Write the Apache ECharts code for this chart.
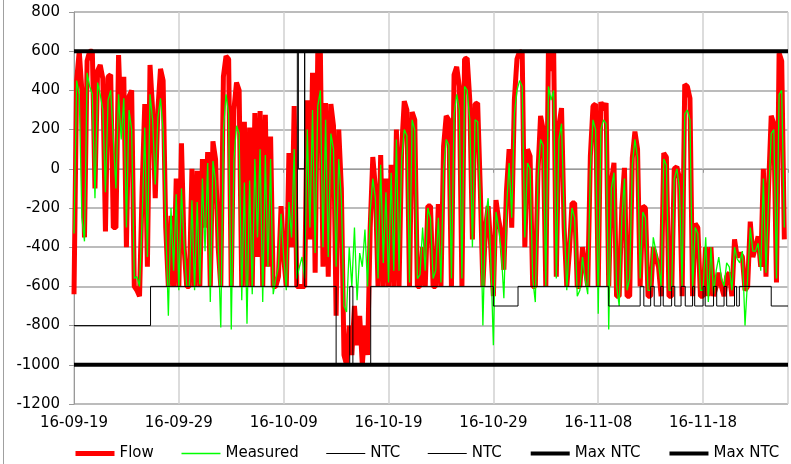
<!DOCTYPE html>
<html><head><meta charset="utf-8">
<script src="https://cdn.jsdelivr.net/npm/echarts@6/dist/echarts.min.js"></script>
<style>html,body{margin:0;padding:0;background:#fff}#c{width:791px;height:464px}</style>
</head><body><div id="c"></div>
<script>
// x in days since 16-09-19, flow/measured sampled every 6 hours
const tickLabels = ['16-09-19','16-09-29','16-10-09','16-10-19','16-10-29','16-11-08','16-11-18'];
const samplesPerDay = 4;
const flow = [
-640,450,600,400, -350,550,600,600, -100,500,530,460, -320,470,480,-300,
-300,580,200,470, -400,370,400,-600, -620,-650,-100,330, -500,530,300,-150,
300,510,450,-300, -600,-240,-600,-50, -600,130,-400,-600, -600,0,-600,-10,
-600,50,-300,85, -600,140,50,-400, -600,470,575,560, -600,300,440,400,
-600,240,-600,210, -600,285,-450,295, -600,275,-500,165, -600,-600,-550,-190,
-450,-600,80,-400, 320,-600,-600,-600, -600,350,-360,490, -530,590,590,-500,
335,-550,330,220, -750,200,-100,-950, -1000,-800,-950,-700, -900,-750,-1000,-800,
-950,-300,60,-100, -600,70,-600,-50, -600,20,-600,200, -600,100,345,300,
-600,290,250,-600, -600,-400,-600,-190, -190,-600,-600,-180, -600,115,270,250,
-600,480,520,420, -600,560,565,350, -360,330,335,-100, -600,-300,-190,-400,
-650,-160,-260,-330, -515,-110,100,-300, 350,560,600,590, -400,100,65,-600,
-600,-20,270,200, -600,600,500,600, -550,220,310,-300, -600,-420,-175,-175,
-600,-600,-400,-500, -600,65,320,330, -600,340,300,335, -600,-70,30,-650,
-650,-200,5,-650, -650,55,190,100, -600,-190,-200,-650, -650,-400,-450,-500,
-650,80,60,-650, -650,0,10,-50, -650,430,420,360, -650,-280,-300,-650,
-650,-400,-650,-400, -650,-600,-530,-600, -650,-550,-530,-650, -360,-450,-430,-450,
-620,-600,-270,-450, -400,-345,-500,0, -550,-90,270,230, -580,590,550,-360
];
const measured = [
-330,450,380,-250, -370,490,420,380, -150,440,380,300, -120,350,400,150,
-100,380,150,360, -300,300,200,-560, -550,-600,-250,210, -450,380,250,-80,
260,360,200,-280, -750,-200,-520,-130, -620,-100,-380,-600, -600,-160,-620,-170,
-590,-50,-420,30, -680,40,-60,-380, -810,200,380,280, -820,50,220,180,
-670,-70,-790,-60, -640,50,-350,100, -680,70,-500,50, -640,-560,-500,-230,
-450,-620,-170,-350, 100,-560,-500,-450, -560,200,-300,300, -430,320,400,-400,
250,-450,180,100, -500,50,-150,-700, -730,-400,-600,-300, -670,-430,-500,-310,
-600,-220,-50,-150, -560,20,-480,-120, -580,-20,-520,150, -520,50,200,170,
-580,250,200,-560, -540,-300,-520,-200, -250,-560,-520,-250, -580,0,150,120,
-560,280,380,300, -560,420,400,250, -400,250,240,-150, -800,-250,-150,-450,
-900,-220,-300,-420, -660,-200,30,-250, 280,400,450,420, -350,30,0,-560,
-680,-50,150,120, -600,420,350,400, -560,150,230,-250, -620,-380,-200,-250,
-650,-620,-450,-560, -640,0,250,200, -740,200,250,230, -820,-100,-20,-600,
-700,-250,-50,-620, -560,20,150,60, -560,-220,-250,-620, -620,-350,-420,-480,
-600,50,20,-620, -620,-50,0,-100, -600,280,300,250, -620,-300,-330,-620,
-620,-350,-680,-400, -640,-520,-450,-560, -600,-480,-500,-620, -400,-460,-480,-420,
-800,-560,-300,-420, -420,-380,-520,-50, -530,-150,180,200, -560,380,400,-300
];
const ntcLowDays = [0,7.3,21.3,22.0,25.0,26.3,26.6,28.3,40.0,42.35,
  51.0,54.0,54.35,55.0,55.34,55.96,56.2,57.0,57.3,57.9,58.3,59.0,59.2,60.0,60.2,61.0,61.3,62.0,62.25,63.0,63.2,63.46,66.5,68.1];
const ntcLowValues = [-800,-600,600,-600,-1000,-600,-1000,-600,-700,-600,
  -700,-600,-700,-600,-700,-600,-700,-600,-700,-600,-700,-600,-700,-600,-700,-600,-700,-600,-700,-600,-700,-600,-700,-700];
const ntcHighDays = [0,21.4,22.0,68.1];
const ntcHighValues = [600,0,600,600];
const maxNtcDays = [0,68.1];
const maxNtcUpper = [600,600];
const maxNtcLower = [-1000,-1000];

const pairs = (xs, ys) => ys.map((v,i)=>[xs[i], v]);
const sampled = ys => ys.map((v,i)=>[i/samplesPerDay, v]);
const FONT = 'DejaVu Sans';
const hideSymbol = {color:'rgba(0,0,0,0)', borderColor:'rgba(0,0,0,0)', borderWidth:0, opacity:0};

const chart = echarts.init(document.getElementById('c'), null, {renderer:'canvas'});
chart.setOption({
  animation:false,
  backgroundColor:'#fff',
  graphic:[{type:'line', shape:{x1:3.5,y1:0,x2:3.5,y2:464}, style:{stroke:'#a0a0a0', lineWidth:1}}],
  grid:{left:74, right:0, top:12, bottom:60},
  xAxis:{type:'value', min:0, max:68.1, interval:10,
    axisLine:{lineStyle:{color:'#999', width:1}},
    axisTick:{show:true, length:4, lineStyle:{color:'#999'}},
    splitLine:{show:true, lineStyle:{color:'#d0d0d0', width:1.5}},
    axisLabel:{fontFamily:FONT, fontSize:15, color:'#000', margin:12,
      formatter:v => (Math.abs(v/10 - Math.round(v/10))<1e-6 && tickLabels[Math.round(v/10)]) ? tickLabels[Math.round(v/10)] : ''}
  },
  yAxis:{type:'value', min:-1200, max:800, interval:200,
    axisLine:{show:true, lineStyle:{color:'#999', width:1}},
    axisTick:{show:true, length:5, lineStyle:{color:'#999'}},
    splitLine:{show:true, lineStyle:{color:'#a6a6a6', width:1.5}},
    axisLabel:{fontFamily:FONT, fontSize:15, color:'#000', margin:14, formatter:v => String(v)}
  },
  legend:{left:73, top:446, padding:0, itemWidth:39, itemHeight:14, itemGap:27,
    textStyle:{fontFamily:FONT, fontSize:15, color:'#000'},
    itemStyle:hideSymbol,
    formatter:n => n.trim(),
    data:[
      {name:'Flow', lineStyle:{width:5, color:'#ff0000'}, itemStyle:hideSymbol},
      {name:'Measured', lineStyle:{width:1.5, color:'#00ff00'}, itemStyle:hideSymbol},
      {name:'NTC', lineStyle:{width:1, color:'#000'}, itemStyle:hideSymbol},
      {name:'NTC ', lineStyle:{width:1, color:'#000'}, itemStyle:hideSymbol},
      {name:'Max NTC', lineStyle:{width:4, color:'#000'}, itemStyle:hideSymbol},
      {name:'Max NTC ', lineStyle:{width:4, color:'#000'}, itemStyle:hideSymbol}
    ]
  },
  series:[
    {name:'Flow', type:'line', symbol:'none', data:sampled(flow), lineStyle:{color:'#ff0000', width:5}, itemStyle:{color:'#ff0000'}},
    {name:'Measured', type:'line', symbol:'none', data:sampled(measured), lineStyle:{color:'#00ff00', width:1.3}, itemStyle:{color:'#00ff00'}},
    {name:'NTC', type:'line', symbol:'none', step:'end', data:pairs(ntcLowDays, ntcLowValues), lineStyle:{color:'#000', width:1}, itemStyle:{color:'#000'}},
    {name:'NTC ', type:'line', symbol:'none', step:'end', data:pairs(ntcHighDays, ntcHighValues), lineStyle:{color:'#000', width:1}, itemStyle:{color:'#000'}},
    {name:'Max NTC', type:'line', symbol:'none', data:pairs(maxNtcDays, maxNtcUpper), lineStyle:{color:'#000', width:4}, itemStyle:{color:'#000'}},
    {name:'Max NTC ', type:'line', symbol:'none', data:pairs(maxNtcDays, maxNtcLower), lineStyle:{color:'#000', width:4}, itemStyle:{color:'#000'}}
  ]
});
</script></body></html>
